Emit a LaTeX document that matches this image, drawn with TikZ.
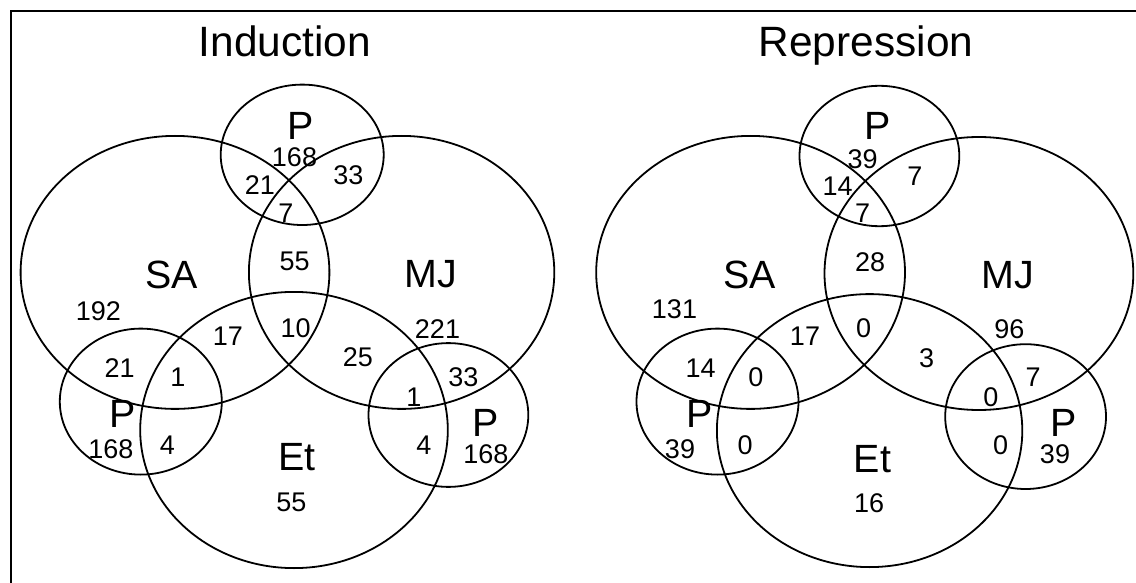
\documentclass[tikz,border=0pt]{standalone}
\usepackage{fontspec}
\setmainfont{Liberation Sans}

\begin{document}
\begin{tikzpicture}[x=0.5pt,y=-0.5pt,
    num/.style={inner sep=0pt,font=\fontsize{13.5}{16}\selectfont},
    setname/.style={inner sep=0pt,font=\fontsize{19.7}{23}\selectfont},
    head/.style={inner sep=0pt,anchor=base,font=\fontsize{21.2}{25}\selectfont},
    ring/.style={line width=0.9pt}]
  \useasboundingbox (0,0) rectangle (1136,583);
  \draw[line width=1pt] (1136,11.3) -- (11.3,11.3) -- (11.3,583);

  % Induction
  \draw[ring] (175,272.4) ellipse (154.4 and 136.5);
  \draw[ring] (401.6,272.4) ellipse (152.7 and 136.5);
  \draw[ring] (302.2,154.8) ellipse (81.5 and 70.2);
  \draw[ring] (294,430) ellipse (153.8 and 138.1);
  \draw[ring] (140.8,401.6) ellipse (81 and 73);
  \draw[ring] (448.4,415) ellipse (79.9 and 71.9);
  \node[head] (indTitle) at (284.8,57) {Induction};
  \node[setname] (indSA) at (171.6,274.5) {SA};
  \node[setname] (indMJ) at (431,274.5) {MJ};
  \node[setname] (indEt) at (296.8,456.7) {Et};
  \node[setname] (indPtop) at (301,126) {P};
  \node[setname] (indPleft) at (122.8,413.5) {P};
  \node[setname] (indPright) at (485.9,423) {P};
  \node[num] (indA) at (294.5,157) {168};
  \node[num] (indB) at (260,185) {21};
  \node[num] (indC) at (348.5,175) {33};
  \node[num] (indD) at (285.9,212.8) {7};
  \node[num] (indE) at (294.6,261.8) {55};
  \node[num] (indF) at (98.3,311) {192};
  \node[num] (indG) at (228,336.4) {17};
  \node[num] (indH) at (295.7,328.6) {10};
  \node[num] (indI) at (437.5,329) {221};
  \node[num] (indJ) at (358,357) {25};
  \node[num] (indK) at (119.7,368) {21};
  \node[num] (indL) at (178,377.5) {1};
  \node[num] (indM) at (463.5,377) {33};
  \node[num] (indN) at (414,397.5) {1};
  \node[num] (indO) at (110.9,448.8) {168};
  \node[num] (indP) at (167.4,445.6) {4};
  \node[num] (indQ) at (424,445.6) {4};
  \node[num] (indR) at (485.9,454.5) {168};
  \node[num] (indS) at (291.3,502.4) {55};

  % Repression
  \begin{scope}[shift={(576.5,0)}]
    \draw[ring] (174.1,272.4) ellipse (154.4 and 136.5);
    \draw[ring] (402.4,273.5) ellipse (154.4 and 136.5);
    \draw[ring] (302.9,156) ellipse (79.9 and 70.2);
    \draw[ring] (293.1,430.6) ellipse (152.7 and 136.5);
    \draw[ring] (141,401.6) ellipse (81 and 73);
    \draw[ring] (449.1,416.6) ellipse (80.4 and 72.4);
  \end{scope}
  \node[head] (repTitle) at (866,57) {Repression};
  \node[setname] (repSA) at (749.5,275.2) {SA};
  \node[setname] (repMJ) at (1008.2,275.2) {MJ};
  \node[setname] (repEt) at (872.4,459) {Et};
  \node[setname] (repPtop) at (877.8,126.1) {P};
  \node[setname] (repPleft) at (699.5,413.5) {P};
  \node[setname] (repPright) at (1063.7,423) {P};
  \node[num] (repA) at (862.6,159.2) {39};
  \node[num] (repB) at (837.6,186) {14};
  \node[num] (repC) at (914.8,176) {7};
  \node[num] (repD) at (862.6,212.8) {7};
  \node[num] (repE) at (870.2,261.8) {28};
  \node[num] (repF) at (674.5,309.7) {131};
  \node[num] (repG) at (805,336.4) {17};
  \node[num] (repH) at (863.7,328.6) {0};
  \node[num] (repI) at (1009.3,329.7) {96};
  \node[num] (repJ) at (926.7,358.7) {3};
  \node[num] (repK) at (700.6,368.7) {14};
  \node[num] (repL) at (756,377.6) {0};
  \node[num] (repM) at (1033.2,377.6) {7};
  \node[num] (repN) at (990.8,397.7) {0};
  \node[num] (repO) at (680,448.8) {39};
  \node[num] (repP) at (745.2,445.6) {0};
  \node[num] (repQ) at (1000.6,445.6) {0};
  \node[num] (repR) at (1055,454.5) {39};
  \node[num] (repS) at (869.1,503.5) {16};
\end{tikzpicture}
\end{document}
